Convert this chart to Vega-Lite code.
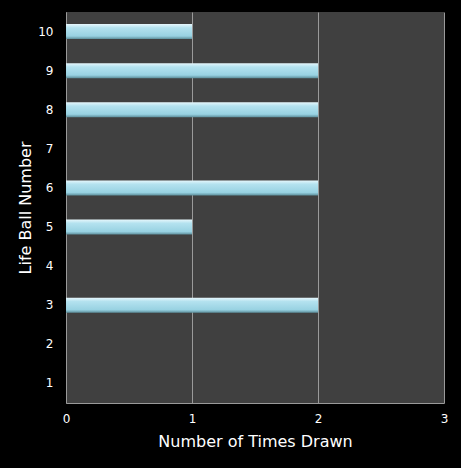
{
  "$schema": "https://vega.github.io/schema/vega-lite/v6.json",
  "width": 378,
  "height": 391,
  "autosize": "none",
  "padding": {"left": 66, "top": 12, "right": 17, "bottom": 65},
  "background": "#000000",
  "data": {
    "values": [
      {"ball": "1", "drawn": 0},
      {"ball": "2", "drawn": 0},
      {"ball": "3", "drawn": 2},
      {"ball": "4", "drawn": 0},
      {"ball": "5", "drawn": 1},
      {"ball": "6", "drawn": 2},
      {"ball": "7", "drawn": 0},
      {"ball": "8", "drawn": 2},
      {"ball": "9", "drawn": 2},
      {"ball": "10", "drawn": 1}
    ]
  },
  "mark": {
    "type": "bar",
    "size": 15,
    "color": {
      "gradient": "linear",
      "x1": 0, "y1": 0, "x2": 0, "y2": 1,
      "stops": [
        {"offset": 0, "color": "#e6f7fc"},
        {"offset": 0.25, "color": "#b4e2ef"},
        {"offset": 0.8, "color": "#98d2e2"},
        {"offset": 1, "color": "#5d8f9c"}
      ]
    }
  },
  "encoding": {
    "y": {
      "field": "ball",
      "type": "ordinal",
      "sort": ["10", "9", "8", "7", "6", "5", "4", "3", "2", "1"],
      "title": "Life Ball Number",
      "axis": {
        "labelAngle": 0,
        "ticks": false,
        "domainColor": "#9a9a9a",
        "labelPadding": 13,
        "titlePadding": 4
      }
    },
    "x": {
      "field": "drawn",
      "type": "quantitative",
      "title": "Number of Times Drawn",
      "scale": {"domain": [0, 3], "nice": false},
      "axis": {
        "values": [0, 1, 2, 3],
        "format": "d",
        "ticks": false,
        "grid": true,
        "labelFlush": false,
        "gridColor": "#9a9a9a",
        "domainColor": "#9a9a9a",
        "labelPadding": 10,
        "titlePadding": 9
      }
    }
  },
  "config": {
    "view": {"fill": "#404040", "stroke": null},
    "axis": {
      "labelColor": "#ffffff",
      "titleColor": "#ffffff",
      "labelFont": "DejaVu Sans",
      "titleFont": "DejaVu Sans",
      "labelFontSize": 12,
      "titleFontSize": 16,
      "titleFontWeight": "normal",
      "gridWidth": 1,
      "domainWidth": 1
    }
  }
}
